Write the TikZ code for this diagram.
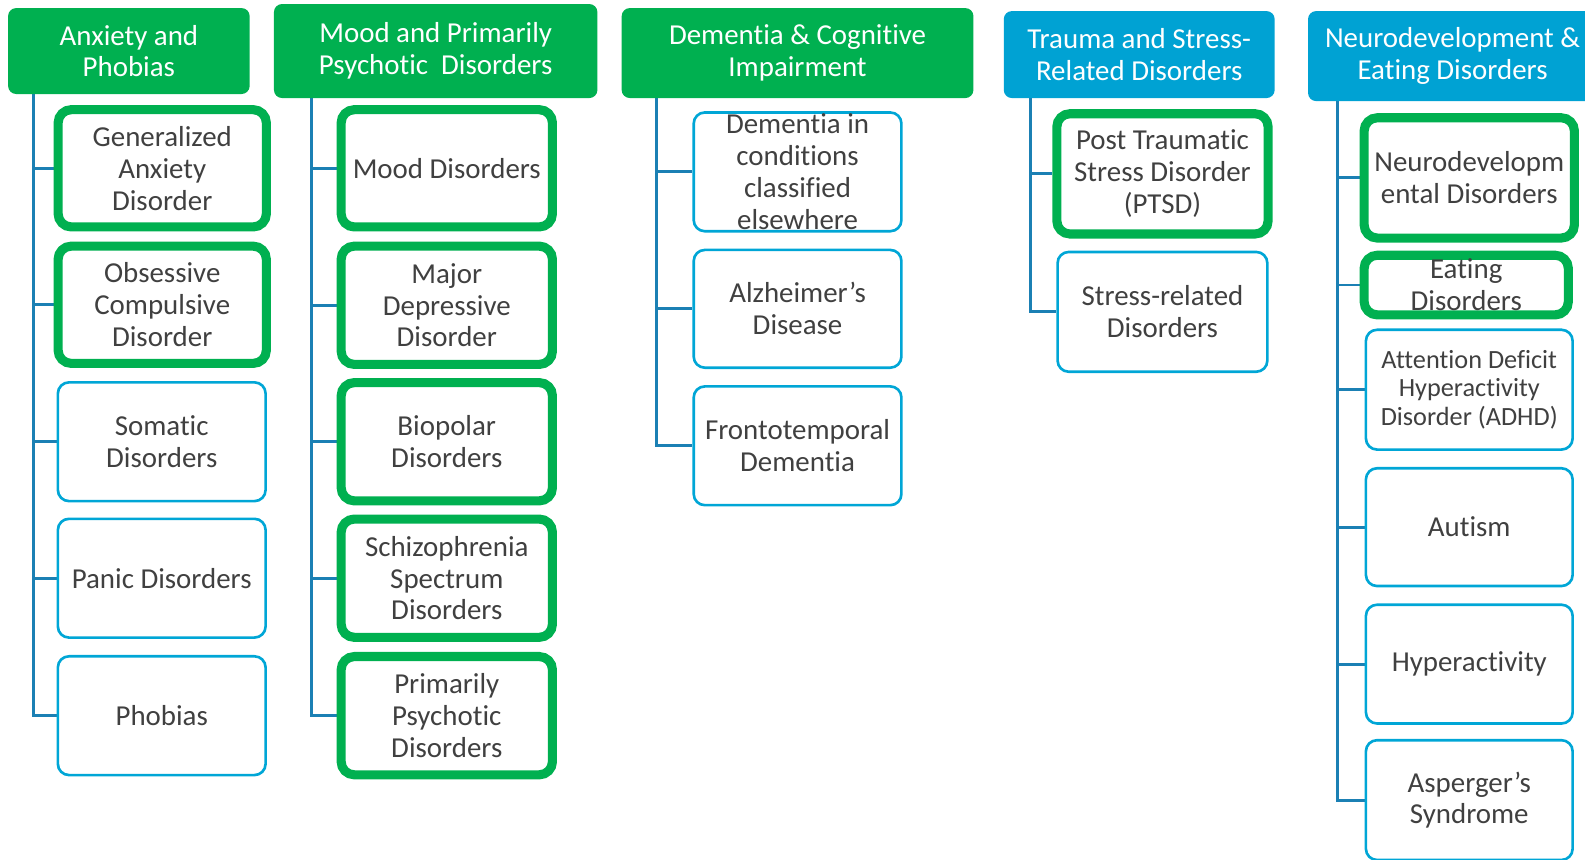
\documentclass[tikz,border=0pt]{standalone}
\usepackage{fontspec}
\setmainfont{Carlito}[Ligatures={NoCommon}]
\usetikzlibrary{backgrounds}
\definecolor{hgreen}{RGB}{0,176,80}
\definecolor{hblue}{RGB}{0,162,211}
\definecolor{bblue}{RGB}{0,166,214}
\definecolor{cblue}{RGB}{27,128,180}
\definecolor{tgray}{RGB}{64,64,64}
\tikzset{
 every node/.style={inner sep=0pt, align=center, font=\fontsize{28.6}{31.5}\selectfont},
 hdr/.style={rounded corners=8pt, text=white},
 hdrg/.style={hdr, fill=hgreen},
 hdrb/.style={hdr, fill=hblue},
 gbox/.style={draw=hgreen, line width=9pt, rounded corners=13pt, fill=white, text=tgray},
 bbox/.style={draw=bblue, line width=2.6pt, rounded corners=11pt, fill=white, text=tgray},
 conn/.style={draw=cblue, line width=2.8pt},
}
\begin{document}
\begin{tikzpicture}[x=1pt,y=-1pt]
\useasboundingbox (0,0) rectangle (1568,850);
% headers
\node[hdrg, minimum width=239pt, minimum height=85pt] (h1) at (127.5,50.5) {Anxiety and\\Phobias};
\node[hdrg, minimum width=320pt, minimum height=93pt] (h2) at (431,50.5) {Mood and Primarily\\Psychotic~ Disorders};
\node[hdrg, minimum width=348pt, minimum height=89pt] (h3) at (789,52.5) {Dementia \& Cognitive\\Impairment};
\node[hdrb, minimum width=268pt, minimum height=86pt] (h4) at (1127,54) {Trauma and Stress-\\Related Disorders};
\node[hdrb, minimum width=286pt, minimum height=89pt] (h5) at (1437,55.5) {Neurodevelopment \&\\Eating Disorders};
% column 1
\node[gbox, minimum width=206pt, minimum height=116pt] (b11) at (160.5,166.5) {Generalized\\Anxiety\\Disorder};
\node[gbox, minimum width=206pt, minimum height=116pt] (b12) at (160.5,301.5) {Obsessive\\Compulsive\\Disorder};
\node[bbox, minimum width=205.5pt, minimum height=117.5pt] (b13) at (160,437) {Somatic\\Disorders};
\node[bbox, minimum width=205.5pt, minimum height=117.5pt] (b14) at (160,572) {Panic Disorders};
\node[bbox, minimum width=205.5pt, minimum height=117.5pt] (b15) at (160,708) {Phobias};
% column 2
\node[gbox, minimum width=209pt, minimum height=116pt] (b21) at (442,166.5) {Mood Disorders};
\node[gbox, minimum width=209pt, minimum height=117pt] (b22) at (442,302) {Major\\Depressive\\Disorder};
\node[gbox, minimum width=209pt, minimum height=117pt] (b23) at (442,437) {Biopolar\\Disorders};
\node[gbox, minimum width=209pt, minimum height=117pt] (b24) at (442,572) {Schizophrenia\\Spectrum\\Disorders};
\node[gbox, minimum width=209pt, minimum height=117pt] (b25) at (442,708) {Primarily\\Psychotic\\Disorders};
% column 3
\node[bbox, minimum width=205.5pt, minimum height=117.5pt, inner ysep=-12pt] (b31) at (789,170) {Dementia in\\conditions\\classified\\elsewhere};
\node[bbox, minimum width=205.5pt, minimum height=116.5pt] (b32) at (789,305.5) {Alzheimer’s\\Disease};
\node[bbox, minimum width=205.5pt, minimum height=117.5pt] (b33) at (789,441) {Frontotemporal\\Dementia};
% column 4
\node[gbox, minimum width=209pt, minimum height=119pt] (b41) at (1150,172) {Post Traumatic\\Stress Disorder\\(PTSD)};
\node[bbox, minimum width=207.5pt, minimum height=118.5pt] (b42) at (1150,308.5) {Stress-related\\Disorders};
% column 5
\node[gbox, minimum width=208pt, minimum height=119pt] (b51) at (1453.5,176) {Neurodevelopm\\ental Disorders};
\node[gbox, minimum width=202pt, minimum height=59pt, inner ysep=-12pt] (b52) at (1450.5,282) {Eating\\Disorders};
\node[bbox, minimum width=204.5pt, minimum height=118.5pt, font=\fontsize{26}{28.5}\selectfont] (b53) at (1453.5,385.5) {Attention Deficit\\Hyperactivity\\Disorder (ADHD)};
\node[bbox, minimum width=204.5pt, minimum height=116.5pt] (b54) at (1453.5,521.5) {Autism};
\node[bbox, minimum width=204.5pt, minimum height=117.5pt] (b55) at (1453.5,657) {Hyperactivity};
\node[bbox, minimum width=204.5pt, minimum height=118.5pt] (b56) at (1453.5,791.5) {Asperger’s\\Syndrome};
% connectors
\begin{scope}[on background layer]
\foreach \b in {b11,b12,b13,b14,b15} \draw[conn] ([xshift=25pt]h1.south west) |- (\b.west);
\foreach \b in {b21,b22,b23,b24,b25} \draw[conn] ([xshift=37pt]h2.south west) |- (\b.west);
\foreach \b in {b31,b32,b33} \draw[conn] ([xshift=35pt]h3.south west) |- (\b.west);
\foreach \b in {b41,b42} \draw[conn] ([xshift=27pt]h4.south west) |- (\b.west);
\foreach \b in {b51,b52,b53,b54,b55,b56} \draw[conn] ([xshift=29pt]h5.south west) |- (\b.west);
\end{scope}
\end{tikzpicture}
\end{document}
